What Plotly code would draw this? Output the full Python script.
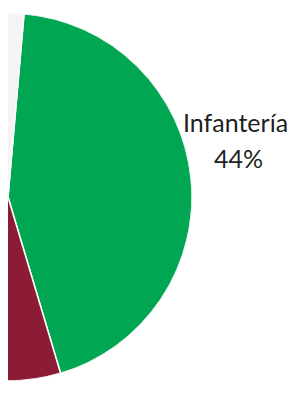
import plotly.graph_objects as go

# Data (only the Infantería slice and part of the neighbouring slice are visible)
labels = ["Infantería", "Otro", "Resto"]
values = [44, 12, 44]
colors = ["#00A651", "#8C1C35", "#F4F4F4"]

start_angle = 5.0  # degrees clockwise from 12 o'clock
total = sum(values)
widths = [v / total * 360 for v in values]
thetas = []
acc = start_angle
for w in widths:
    thetas.append(acc + w / 2)
    acc += w

fig = go.Figure()
fig.add_trace(go.Barpolar(
    r=[1] * len(values),
    theta=thetas,
    width=widths,
    marker=dict(color=colors, line=dict(color="white", width=1.5)),
    hoverinfo="skip",
))

W, H = 289, 389
R = 184
CY = 189
fig.update_layout(
    width=W, height=H,
    margin=dict(l=0, r=0, t=0, b=0),
    paper_bgcolor="white",
    showlegend=False,
    polar=dict(
        domain=dict(x=[0, R / W], y=[(H - CY - R) / H, (H - CY + R) / H]),
        sector=[-90, 90],
        bgcolor="white",
        bargap=0,
        radialaxis=dict(visible=False, range=[0, 1], showgrid=False),
        angularaxis=dict(visible=False, showgrid=False, showline=False, ticks="",
                         rotation=90, direction="clockwise"),
    ),
)

font = dict(family="Lato", size=25, color="#231F20")
fig.add_annotation(text=labels[0], x=227.5 / W, y=1 - 114.5 / H, xref="paper", yref="paper",
                   showarrow=False, font=font, xanchor="center", yanchor="middle")
fig.add_annotation(text=f"{values[0]}%", x=230 / W, y=1 - 150 / H, xref="paper", yref="paper",
                   showarrow=False, font=font, xanchor="center", yanchor="middle")

fig.write_html("out.html")
